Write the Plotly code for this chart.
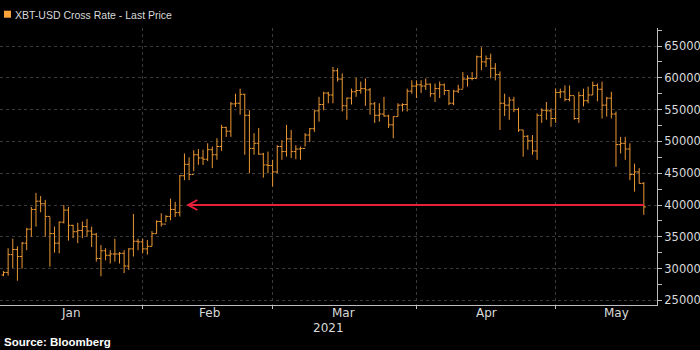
import pandas as pd
import plotly.graph_objects as go

# ---------------- data (XBT-USD daily bars) ----------------
START_DATE = "2021-01-01"
high = [29600, 33200, 34700, 33500, 34200, 36400, 39700, 41900, 41400, 40800,
        38100, 36600, 37400, 40000, 39700, 36900, 37200, 37400, 37800, 36600,
        35600, 33700, 33200, 32900, 34700, 32600, 32900, 33200, 38600, 34700,
        34700, 34500, 35900, 37600, 38700, 38400, 41000, 40500, 44700, 48100,
        47500, 48600, 48800, 48700, 49700, 49200, 50500, 52600, 52300, 56200,
        57500, 58300, 57500, 54900, 51300, 52100, 48200, 48400, 47100, 49400,
        50200, 52600, 51800, 49400, 49200, 51300, 52100, 54900, 57000, 57800,
        57800, 61700, 61500, 60700, 56900, 58300, 60000, 59400, 59900, 58400,
        56200, 56000, 57000, 54200, 53900, 56000, 56000, 58300, 59600, 59600,
        59600, 59900, 59100, 59100, 59400, 59100, 58100, 58100, 58900, 60900,
        60400, 60900, 63500, 64800, 63500, 63800, 62300, 61000, 57500, 57000,
        57000, 55300, 51800, 51000, 51000, 54400, 55200, 56200, 55200, 58300,
        58300, 58800, 58800, 57100, 57800, 58300, 58600, 59400, 59100, 59400,
        57000, 57800, 54700, 50700, 50700, 49700, 46500, 45800, 43600]
low = [28800, 28900, 30100, 28100, 30000, 32900, 35000, 36600, 38850, 35000,
       30300, 32500, 32400, 37100, 34400, 34800, 34000, 34800, 35000, 33400,
       31100, 28800, 31300, 30800, 31100, 30800, 29300, 29800, 31900, 32900,
       32400, 32200, 33500, 35500, 36600, 37300, 37600, 38100, 38200, 43900,
       43900, 45300, 46300, 46300, 46900, 45800, 47100, 48500, 50700, 50700,
       55400, 54200, 47900, 45000, 47900, 47900, 44300, 45000, 42900, 45000,
       47100, 47600, 47400, 47200, 47100, 49200, 49900, 51500, 53100, 54900,
       56000, 56000, 59400, 54700, 53400, 55800, 57000, 57500, 55600, 54200,
       52900, 53100, 53900, 52100, 50500, 53900, 54700, 54700, 57500, 56800,
       57600, 58100, 57000, 56200, 56800, 57300, 55700, 55700, 57600, 58300,
       58600, 59600, 59900, 61200, 61700, 59900, 59600, 51800, 54000, 53400,
       54600, 51500, 47600, 48700, 47900, 47100, 52900, 53400, 52300, 52900,
       56800, 56300, 56300, 53400, 52900, 55500, 56000, 57300, 56300, 53600,
       53900, 53600, 46000, 48100, 47100, 43900, 42100, 43400, 38450]
close = [29400, 32200, 33000, 31900, 34000, 36200, 39300, 40600, 40200, 38200,
         35500, 34000, 37300, 39200, 36800, 35800, 36000, 36600, 35900, 35400,
         31600, 32800, 32100, 32300, 32300, 32400, 30400, 33100, 34300, 34200,
         33100, 33500, 35500, 37400, 37000, 38200, 39300, 38800, 44600, 46400,
         44800, 47900, 47400, 47200, 48700, 47900, 49200, 52200, 51600, 55900,
         56000, 57400, 54100, 48900, 49700, 48000, 46300, 46200, 45200, 49200,
         48400, 50400, 48400, 48800, 48900, 51000, 52000, 54800, 55800, 57600,
         57300, 61100, 59800, 55600, 56800, 57800, 58000, 58300, 58100, 55900,
         54100, 54300, 54000, 52600, 53900, 55700, 55800, 57900, 58700, 58900,
         58700, 59000, 57500, 58300, 58900, 58000, 56000, 57900, 58200, 59800,
         59900, 59900, 63300, 62500, 63000, 61500, 60500, 56000, 55700, 56500,
         55000, 51800, 50800, 50100, 48500, 54100, 54900, 54800, 53600, 57700,
         57800, 56600, 57200, 53600, 57200, 56400, 57300, 58800, 58200, 55700,
         56800, 54300, 49500, 49700, 48800, 44800, 45200, 43400, 39700]
first_open = 29000
open_ = [first_open] + close[:-1]

month_names = ["Jan", "Feb", "Mar", "Apr", "May"]
month_label_dates = ["2021-01-15 12:00", "2021-02-14 12:00", "2021-03-15 06:00",
                     "2021-04-15 00:00", "2021-05-13 04:00"]
month_grid_dates = ["2021-01-31", "2021-02-28", "2021-03-31", "2021-04-30"]
year_label = "2021"
legend_text = "XBT-USD Cross Rate - Last Price"
source_text = "Source: Bloomberg"
arrow_level = 40000
arrow_tip = "2021-02-09 20:00"
arrow_end = "2021-05-19 00:00"
x_range = ["2020-12-31 05:54", "2021-05-21 20:10"]
y_range = [24277, 67830]

dates = pd.date_range(START_DATE, periods=len(close), freq="D")

# ---------------- figure ----------------
W, H = 700, 350
ML, MR, MT, MB = 0, 43, 28, 45
PW, PH = W - ML - MR, H - MT - MB

def px(xp):
    return (xp - ML) / PW

def py(yp):
    return (H - MB - yp) / PH

BAR = "#EC9834"
SQUARE = "#FBA33A"
AXIS = "#bdbdbd"
GRID = "#3a3a3a"
TXT = "#dadada"

fig = go.Figure(go.Ohlc(
    x=dates, open=open_, high=high, low=low, close=close,
    increasing=dict(line=dict(color=BAR, width=1)),
    decreasing=dict(line=dict(color=BAR, width=1)),
    tickwidth=0.45, hoverinfo="skip", showlegend=False,
))

fig.update_layout(
    width=W, height=H,
    margin=dict(l=ML, r=MR, t=MT, b=MB),
    paper_bgcolor="#000000", plot_bgcolor="#000000",
    showlegend=False,
    xaxis=dict(
        type="date", range=x_range, rangeslider=dict(visible=False),
        tickmode="array", tickvals=month_grid_dates, showticklabels=False,
        showgrid=True, gridcolor=GRID, griddash="dot", gridwidth=1,
        ticks="outside", ticklen=3, tickcolor=AXIS,
        showline=True, linecolor=AXIS, linewidth=1, zeroline=False,
    ),
    yaxis=dict(
        side="right", range=y_range, dtick=5000, tick0=0, tickformat="d",
        showgrid=True, gridcolor=GRID, griddash="dot", gridwidth=1,
        ticks="outside", ticklen=4, tickcolor=AXIS,
        minor=dict(dtick=2500, tick0=0, ticks="outside", ticklen=4, tickcolor=AXIS, showgrid=False),
        showline=True, linecolor=AXIS, linewidth=1, zeroline=False,
        tickfont=dict(family="DejaVu Sans", size=11.5, color=TXT),
    ),
)

# red arrow at 40000
RED = "#e8203c"
fig.add_shape(type="line", xref="x", yref="y", x0=arrow_tip, x1=arrow_end,
              y0=arrow_level, y1=arrow_level, line=dict(color=RED, width=2))
fig.add_shape(type="path", xref="x", yref="y", xsizemode="pixel", ysizemode="pixel",
              xanchor=arrow_tip, yanchor=arrow_level,
              path="M 9,5 L 0,0 L 9,-5", line=dict(color=RED, width=2))

# month labels
for name, d in zip(month_names, month_label_dates):
    fig.add_annotation(x=d, xref="x", y=py(313), yref="paper", text=name,
                       showarrow=False, xanchor="center", yanchor="middle",
                       font=dict(family="DejaVu Sans", size=12, color=TXT))
fig.add_annotation(x=px(328.5), xref="paper", y=py(328), yref="paper", text=year_label,
                   showarrow=False, xanchor="center", yanchor="middle",
                   font=dict(family="DejaVu Sans", size=12, color=TXT))

# legend
fig.add_shape(type="rect", xref="paper", yref="paper",
              x0=px(4), x1=px(11), y0=py(17.7), y1=py(10.7),
              fillcolor=SQUARE, line=dict(width=0))
fig.add_annotation(x=px(13), xref="paper", y=py(15), yref="paper", text=legend_text,
                   showarrow=False, xanchor="left", yanchor="middle",
                   font=dict(family="Liberation Sans", size=10.5, color=TXT))

# source
fig.add_annotation(x=px(2), xref="paper", y=py(342), yref="paper", text="<b>" + source_text + "</b>",
                   showarrow=False, xanchor="left", yanchor="middle",
                   font=dict(family="Liberation Sans", size=11.5, color="#ffffff"))

fig.write_html("out.html")
